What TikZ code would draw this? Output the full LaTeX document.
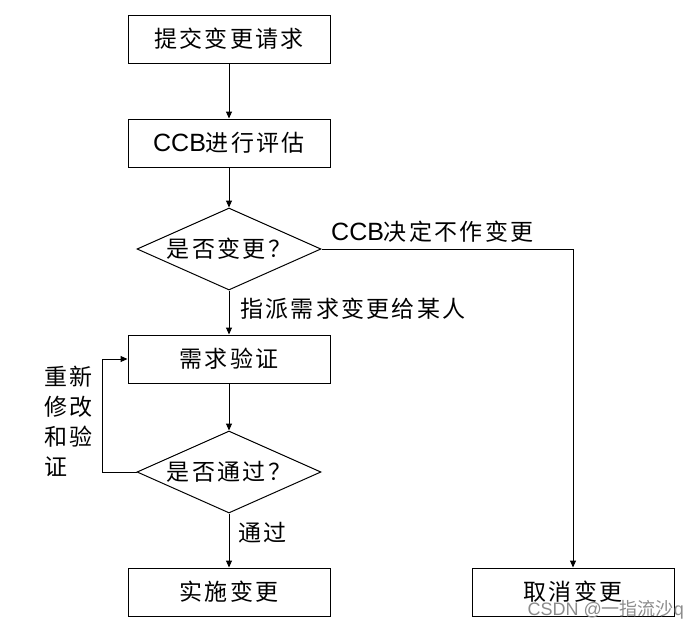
\documentclass[tikz,border=0pt]{standalone}
\usepackage{fontspec}
\setmainfont{Liberation Sans}
\newfontfamily\cjk[LetterSpace=10]{Noto Sans CJK SC}
\newfontfamily\cjkwm{Noto Sans CJK SC}
\usetikzlibrary{shapes.geometric,arrows.meta}
\begin{document}
\begin{tikzpicture}[x=1pt,y=-1pt,
  every node/.style={font=\fontsize{23}{30}\selectfont},
  box/.style={draw, line width=1pt, minimum width=202pt, minimum height=48pt, inner sep=0pt},
  dia/.style={draw, line width=1pt, diamond, aspect=2.24, minimum width=184pt, minimum height=82pt, inner sep=0pt},
  arr/.style={-{Triangle[length=7pt,width=6pt]}, line width=1pt},
  lbl/.style={inner sep=0pt}]
\useasboundingbox (0,0) rectangle (700,632);
\fill[white] (0,0) rectangle (700,632);
\node[box] (b1) at (229,39) {\cjk 提交变更请求};
\node[box] (b2) at (229,143) {{\fontsize{25}{30}\selectfont CCB}\cjk 进行评估};
\node[dia] (d1) at (229,249) {\cjk 是否变更？};
\node[box] (b3) at (229,359) {\cjk 需求验证};
\node[dia] (d2) at (229,472) {\cjk 是否通过？};
\node[box] (b4) at (229,592) {\cjk 实施变更};
\node[box] (b5) at (573,592) {\cjk 取消变更};
\draw[arr] (b1) -- (b2);
\draw[arr] (b2) -- (d1);
\draw[arr] (d1) -- (b3);
\draw[arr] (b3) -- (d2);
\draw[arr] (d2) -- (b4);
\draw[arr] (d1.east) -| (b5.north);
\draw[arr] (d2.west) -- ++(-34,0) |- (b3.west);
\node[lbl, anchor=west] (l1) at (331,232) {{\fontsize{25}{30}\selectfont CCB}\cjk 决定不作变更};
\node[lbl, anchor=west] (l2) at (240,309) {\cjk 指派需求变更给某人};
\node[lbl, anchor=west] (l3) at (238,533) {\cjk 通过};
\node[lbl, anchor=west, align=left] (l4) at (44,421) {\cjk 重新\\\cjk 修改\\\cjk 和验\\\cjk 证};
\node[lbl, anchor=east, text=black!45, font=\fontsize{18}{20}\selectfont] (wm) at (684,610) {CSDN @{\cjkwm 一指流沙}q};
\end{tikzpicture}
\end{document}
